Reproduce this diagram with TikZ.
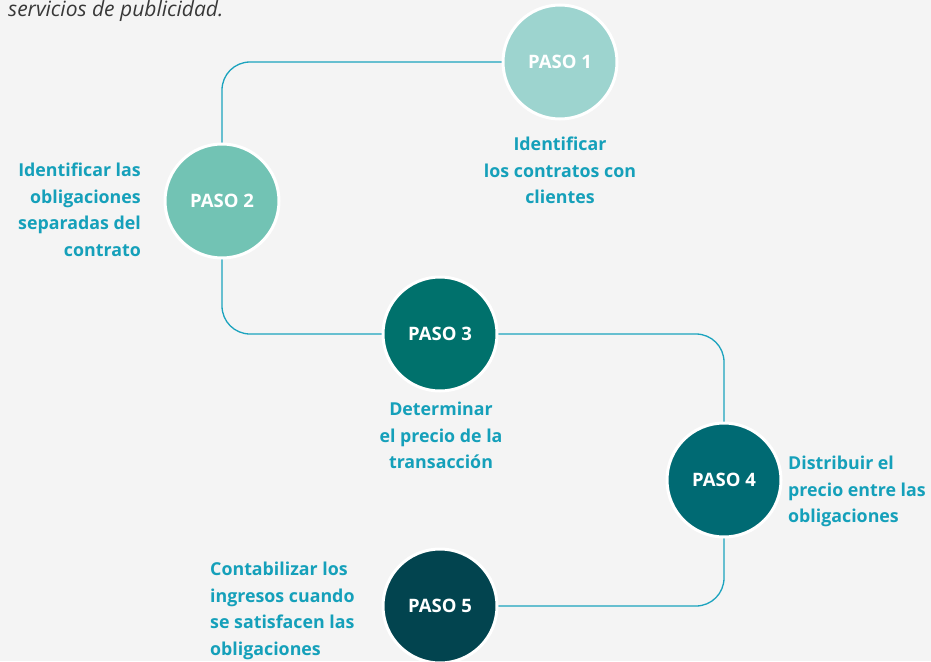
\documentclass[tikz,border=0pt]{standalone}
\usepackage{fontspec}
\setmainfont{Open Sans}
\usepackage{tikz}

\definecolor{bgcol}{HTML}{F4F4F4}
\definecolor{linecol}{HTML}{1BA3BE}
\definecolor{txtcol}{HTML}{15A0BA}
\definecolor{pasoA}{HTML}{9DD4CF}
\definecolor{pasoB}{HTML}{72C3B4}
\definecolor{pasoC}{HTML}{00716C}
\definecolor{pasoD}{HTML}{006A73}
\definecolor{pasoE}{HTML}{02444F}

\begin{document}
\begin{tikzpicture}[x=1pt,y=-1pt,
  paso/.style={circle,minimum size=114,inner sep=0,draw=white,line width=3,
    text=white,font=\fontsize{18.5}{20}\selectfont\bfseries},
  etiq/.style={inner sep=0,text=txtcol,font=\fontsize{17.8}{26.5}\selectfont\bfseries},
  conn/.style={linecol,line width=1.3,rounded corners=28}]
\fill [bgcol] (0,0) rectangle (931,661);
\useasboundingbox (0,0) rectangle (931,661);

\node[anchor=base west,inner sep=0,text=black!78,font=\fontsize{21}{24}\selectfont\itshape]
  (intro) at (8,17) {servicios de publicidad.};

% connectors first, circles on top
\coordinate (c1) at (560,62);
\coordinate (c2) at (222,201);
\coordinate (c3) at (440,334);
\coordinate (c4) at (724,480);
\coordinate (c5) at (440,606);
\draw[conn] (c1) -| (c2);
\draw[conn] (c2) |- (c3);
\draw[conn] (c3) -| (c4);
\draw[conn] (c4) |- (c5);

\node[paso,fill=pasoA] (p1) at (c1) {PASO 1};
\node[paso,fill=pasoB] (p2) at (c2) {PASO 2};
\node[paso,fill=pasoC] (p3) at (c3) {PASO 3};
\node[paso,fill=pasoD] (p4) at (c4) {PASO 4};
\node[paso,fill=pasoE] (p5) at (c5) {PASO 5};

\node[etiq,anchor=north,align=center] (t1) at (560,137)
  {Identificar\\los contratos con\\clientes};
\node[etiq,anchor=north east,align=right] (t2) at (141,163)
  {Identificar las\\obligaciones\\separadas del\\contrato};
\node[etiq,anchor=north,align=center] (t3) at (441,402)
  {Determinar\\el precio de la\\transacción};
\node[etiq,anchor=north west,align=left] (t4) at (788,456)
  {Distribuir el\\precio entre las\\obligaciones};
\node[etiq,anchor=north west,align=left] (t5) at (210,562)
  {Contabilizar los\\ingresos cuando\\se satisfacen las\\obligaciones};

\end{tikzpicture}
\end{document}
